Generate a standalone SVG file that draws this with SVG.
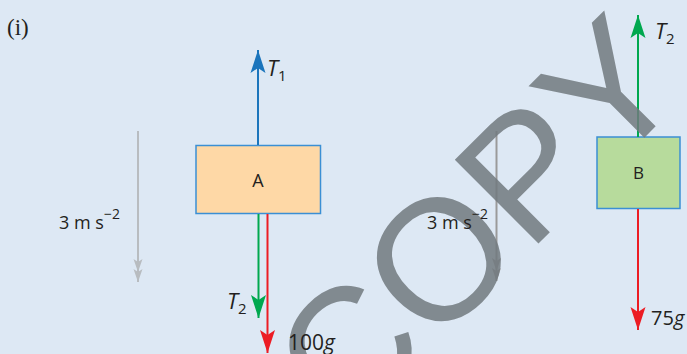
<svg xmlns="http://www.w3.org/2000/svg" width="687" height="354" viewBox="0 0 687 354">
<style>
.lbl{font-family:"Open Sans","Noto Sans",sans-serif;fill:#231f20}
.it{font-style:italic}
.box{stroke:#3b8fd4;stroke-width:1.5}
.f{stroke-width:2;fill:none}
</style>
<defs>
<marker id="hBlue" markerUnits="userSpaceOnUse" viewBox="-24 -9 26 18" refX="0" refY="0" markerWidth="26" markerHeight="18" orient="auto"><path d="M0,0 L-23,-7.5 L-18,0 L-23,7.5 Z" fill="#1b75bc"/></marker>
<marker id="hGreen" markerUnits="userSpaceOnUse" viewBox="-24 -9 26 18" refX="0" refY="0" markerWidth="26" markerHeight="18" orient="auto"><path d="M0,0 L-23,-7.5 L-18,0 L-23,7.5 Z" fill="#00a84f"/></marker>
<marker id="hRed" markerUnits="userSpaceOnUse" viewBox="-24 -9 26 18" refX="0" refY="0" markerWidth="26" markerHeight="18" orient="auto"><path d="M0,0 L-23,-7.5 L-18,0 L-23,7.5 Z" fill="#ec1c24"/></marker>
<marker id="hGrayL" markerUnits="userSpaceOnUse" viewBox="-24 -6 26 12" refX="0" refY="0" markerWidth="26" markerHeight="12" orient="auto"><path d="M0,0 L-13,-4.5 L-10,0 L-13,4.5 Z M-10,0 L-23,-4.5 L-20,0 L-23,4.5 Z" fill="#b8bcc0"/></marker>
<marker id="hGrayR" markerUnits="userSpaceOnUse" viewBox="-24 -6 26 12" refX="0" refY="0" markerWidth="26" markerHeight="12" orient="auto"><path d="M0,0 L-13,-4.5 L-10,0 L-13,4.5 Z M-10,0 L-23,-4.5 L-20,0 L-23,4.5 Z" fill="#9a9a9a"/></marker>
</defs>
<rect x="0" y="0" width="687" height="354" fill="#dde8f4"/>
<g id="boxA"><rect class="box" x="196" y="145.5" width="124.5" height="68" fill="#fed8a6"/></g>
<g id="boxB"><rect class="box" x="597" y="137" width="83" height="71.5" fill="#b7db9c"/></g>
<g id="connectors">
<line class="f" x1="258" y1="145" x2="258" y2="50" stroke="#1b75bc" marker-end="url(#hBlue)"/>
<line class="f" x1="258.5" y1="214" x2="258.5" y2="318" stroke="#00a84f" marker-end="url(#hGreen)"/>
<line class="f" x1="267.5" y1="214" x2="267.5" y2="353" stroke="#ec1c24" marker-end="url(#hRed)"/>
<line class="f" x1="638" y1="137" x2="638" y2="15" stroke="#00a84f" marker-end="url(#hGreen)"/>
<line class="f" x1="638" y1="209" x2="638" y2="330" stroke="#ec1c24" marker-end="url(#hRed)"/>
<line class="f" x1="138" y1="131" x2="138" y2="282" stroke="#b8bcc0" marker-end="url(#hGrayL)"/>
<line class="f" x1="496.5" y1="131" x2="496.5" y2="281" stroke="#9a9a9a" stroke-width="1.6" marker-end="url(#hGrayR)"/>
</g>
<text x="346" y="436" transform="rotate(-45 346 436)" font-family="Liberation Sans, Arial, sans-serif" font-size="172" fill="#727a7f" opacity="0.85">COPY</text>
<text x="7" y="35" font-family="Liberation Serif, serif" font-size="23" fill="#231f20">(i)</text>
<g id="labels">
<text class="lbl" x="258" y="187" font-size="18" text-anchor="middle">A</text>
<text class="lbl" x="638.5" y="178.5" font-size="17" text-anchor="middle">B</text>
<text class="lbl" x="267" y="76" font-size="22"><tspan class="it">T</tspan><tspan font-size="15" dy="5">1</tspan></text>
<text class="lbl" x="227" y="309" font-size="22"><tspan class="it">T</tspan><tspan font-size="15" dy="5">2</tspan></text>
<text class="lbl" x="655" y="39" font-size="22"><tspan class="it">T</tspan><tspan font-size="15" dy="5">2</tspan></text>
<text class="lbl" x="288" y="350" font-size="21">100<tspan class="it">g</tspan></text>
<text class="lbl" x="651" y="325" font-size="20">75<tspan class="it">g</tspan></text>
<text class="lbl" x="59" y="229" font-size="18">3 m s<tspan font-size="14" dy="-10">−2</tspan></text>
<text class="lbl" x="427" y="229" font-size="18">3 m s<tspan font-size="14" dy="-10">−2</tspan></text>
</g>
</svg>
